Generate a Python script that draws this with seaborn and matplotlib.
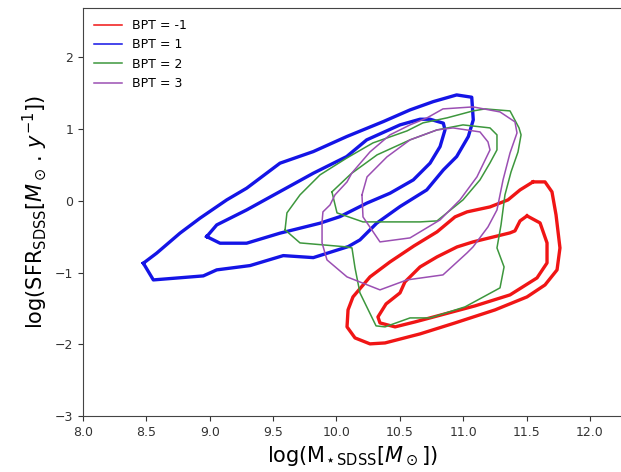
import matplotlib
matplotlib.use("Agg")
import matplotlib.pyplot as plt
from matplotlib.lines import Line2D
import seaborn as sns
import pandas as pd

# ---- data: contour outlines (log M*, log SFR) ----
bpt_labels = ["BPT = -1", "BPT = 1", "BPT = 2", "BPT = 3"]

red_outer_x = [11.550, 11.645, 11.700, 11.732, 11.763, 11.740, 11.645, 11.503, 11.251, 10.935, 10.659, 10.383,
               10.264, 10.146, 10.083, 10.091, 10.130, 10.264, 10.422, 10.611, 10.793, 10.935, 11.030, 11.211,
               11.353, 11.448]
red_outer_y = [0.265, 0.265, 0.126, -0.195, -0.656, -0.962, -1.172, -1.339, -1.520, -1.702, -1.855, -1.981,
               -1.994, -1.911, -1.757, -1.520, -1.339, -1.060, -0.851, -0.628, -0.432, -0.223, -0.153, -0.084,
               0.014, 0.153]
red_inner_x = [11.503, 11.606, 11.661, 11.661, 11.582, 11.369, 11.093, 10.856, 10.619, 10.462, 10.343, 10.327,
               10.391, 10.501, 10.540, 10.659, 10.793, 10.951, 11.077, 11.369, 11.408, 11.448]
red_inner_y = [-0.209, -0.307, -0.586, -0.865, -1.074, -1.311, -1.464, -1.576, -1.688, -1.757, -1.702, -1.618,
               -1.437, -1.283, -1.130, -0.921, -0.781, -0.642, -0.572, -0.446, -0.418, -0.279]

blue_outer_x = [8.476, 8.581, 8.765, 8.923, 9.134, 9.291, 9.554, 9.817, 10.080, 10.369, 10.580, 10.764, 10.948,
                11.067, 11.079, 11.040, 10.948, 10.843, 10.712, 10.501, 10.317, 10.185, 10.093, 9.817, 9.580,
                9.318, 9.055, 8.949, 8.555]
blue_outer_y = [-0.869, -0.729, -0.450, -0.241, 0.014, 0.177, 0.526, 0.688, 0.897, 1.106, 1.269, 1.385, 1.478,
                1.446, 1.130, 0.897, 0.618, 0.432, 0.153, -0.079, -0.311, -0.544, -0.637, -0.791, -0.763,
                -0.902, -0.962, -1.046, -1.102]
blue_inner_x = [8.976, 9.055, 9.291, 9.554, 9.817, 10.080, 10.238, 10.501, 10.659, 10.738, 10.843, 10.856,
                10.817, 10.738, 10.606, 10.422, 10.238, 10.028, 9.870, 9.554, 9.291, 9.081]
blue_inner_y = [-0.498, -0.335, -0.126, 0.130, 0.386, 0.618, 0.851, 1.060, 1.139, 1.139, 1.084, 0.990,
                0.757, 0.526, 0.293, 0.107, -0.032, -0.219, -0.311, -0.450, -0.590, -0.590]

green_outer_x = [9.594, 9.609, 9.712, 9.870, 10.083, 10.288, 10.556, 10.682, 10.872, 11.077, 11.172, 11.369,
                 11.440, 11.456, 11.432, 11.377, 11.329, 11.298, 11.266, 11.322, 11.290, 11.014, 10.738,
                 10.580, 10.383, 10.312, 10.185, 10.146, 10.122, 10.083, 9.712]
green_outer_y = [-0.404, -0.167, 0.084, 0.363, 0.600, 0.809, 0.976, 1.088, 1.158, 1.255, 1.283, 1.255,
                 1.018, 0.921, 0.683, 0.404, 0.084, -0.335, -0.656, -0.921, -1.213, -1.478, -1.632,
                 -1.632, -1.757, -1.743, -1.283, -0.934, -0.656, -0.642, -0.586]
green_inner_x = [9.964, 10.114, 10.320, 10.580, 10.793, 10.998, 11.211, 11.266, 11.266, 11.211, 11.132,
                 10.998, 10.793, 10.659, 10.209, 10.004]
green_inner_y = [0.126, 0.377, 0.642, 0.851, 0.990, 1.060, 1.018, 0.921, 0.711, 0.530, 0.293,
                 0.014, -0.279, -0.293, -0.293, -0.167]

purple_outer_x = [9.886, 9.893, 9.949, 9.988, 10.083, 10.122, 10.264, 10.422, 10.580, 10.714, 10.840, 11.077,
                  11.290, 11.408, 11.424, 11.369, 11.314, 11.266, 11.195, 11.077, 11.030, 10.840, 10.556,
                  10.343, 10.083, 9.925, 9.886]
purple_outer_y = [-0.293, -0.153, -0.056, 0.084, 0.265, 0.391, 0.683, 0.921, 1.060, 1.158, 1.283, 1.311,
                  1.241, 1.102, 0.948, 0.669, 0.293, -0.126, -0.363, -0.642, -0.725, -1.032, -1.102,
                  -1.241, -1.060, -0.823, -0.586]
purple_inner_x = [10.201, 10.241, 10.398, 10.580, 10.793, 10.919, 11.132, 11.195, 11.211, 11.108, 10.974,
                  10.817, 10.580, 10.343, 10.209]
purple_inner_y = [0.084, 0.335, 0.614, 0.851, 0.990, 1.018, 0.962, 0.823, 0.711, 0.335, 0.014,
                  -0.265, -0.516, -0.572, -0.223]

x_ticks = [8.0, 8.5, 9.0, 9.5, 10.0, 10.5, 11.0, 11.5, 12.0]
y_ticks = [-3, -2, -1, 0, 1, 2]

# ---- build table ----
rings = {
    "BPT = -1": [(red_outer_x, red_outer_y), (red_inner_x, red_inner_y)],
    "BPT = 1": [(blue_outer_x, blue_outer_y), (blue_inner_x, blue_inner_y)],
    "BPT = 2": [(green_outer_x, green_outer_y), (green_inner_x, green_inner_y)],
    "BPT = 3": [(purple_outer_x, purple_outer_y), (purple_inner_x, purple_inner_y)],
}
rows = []
for lab, rl in rings.items():
    for k, (xs, ys) in enumerate(rl):
        xs = list(xs) + [xs[0]]
        ys = list(ys) + [ys[0]]
        for i, (a, b) in enumerate(zip(xs, ys)):
            rows.append({"bpt": lab, "ring": f"{lab}-{k}", "order": i, "x": a, "y": b})
df = pd.DataFrame(rows)

colors = {"BPT = -1": "#f01515", "BPT = 1": "#1414e6", "BPT = 2": "#3d973d", "BPT = 3": "#9b4fb3"}
widths = {"BPT = -1": 2.4, "BPT = 1": 2.4, "BPT = 2": 1.1, "BPT = 3": 1.1}

fig = plt.figure(figsize=(6.21, 4.72), dpi=100)
ax = fig.add_axes([83 / 621, 56 / 472, 1 - 83 / 621, 408 / 472])

for lab in bpt_labels:
    sub = df[df["bpt"] == lab]
    for ring, g in sub.groupby("ring"):
        sns.lineplot(data=g, x="x", y="y", sort=False, estimator=None, color=colors[lab],
                     linewidth=widths[lab], ax=ax, legend=False)

ax.set_xlim(8.0, 8.0 + (621 - 83) / 126.75)
ax.set_ylim(-3, -3 + 408 / 71.7)
ax.set_xticks(x_ticks)
ax.set_xticklabels([f"{t:.1f}" for t in x_ticks])
ax.set_yticks(y_ticks)
ax.tick_params(labelsize=9, colors="#333333", length=3.5)
for s in ["left", "bottom", "top"]:
    ax.spines[s].set_color("#444444")
ax.spines["right"].set_visible(False)

ax.set_xlabel(r"log(M$_{\star\,\rm SDSS}$[$M_\odot$])", fontsize=15)
ax.set_ylabel(r"log(SFR$_{\rm SDSS}$[$M_\odot\,.\,y^{-1}$])", fontsize=15)

handles = [Line2D([0], [0], color=colors[l], lw=1.1) for l in bpt_labels]
ax.legend(handles, bpt_labels, loc="upper left", frameon=False, fontsize=9,
          handlelength=2.25, labelspacing=0.5)

fig.savefig("out.png", dpi=100)
